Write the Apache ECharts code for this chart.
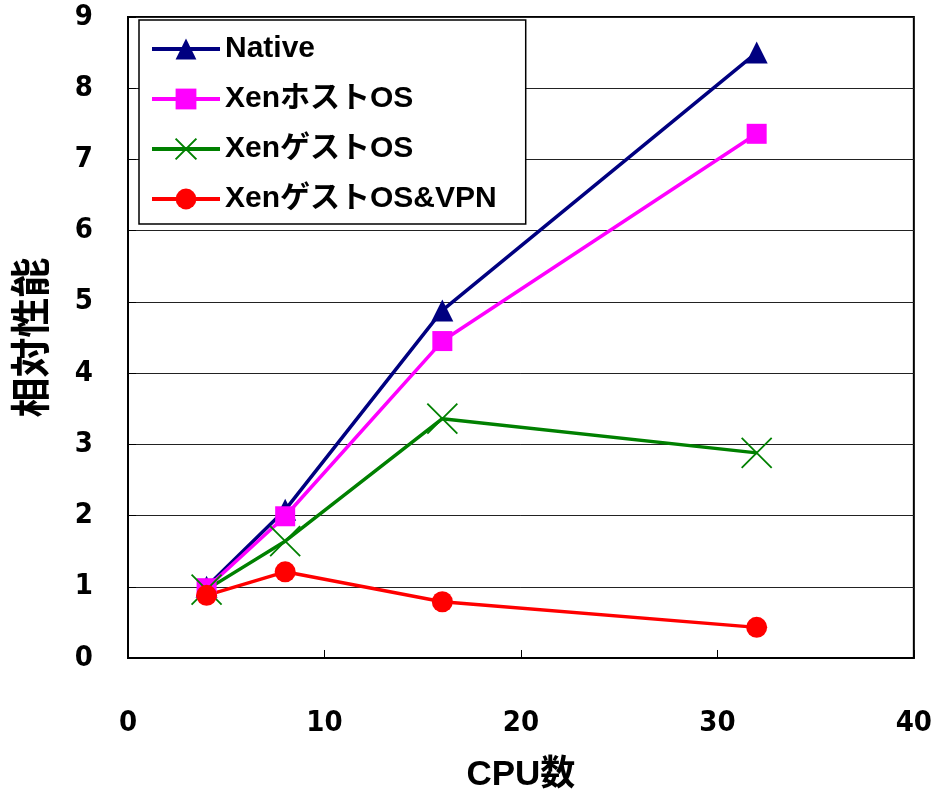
<!DOCTYPE html>
<html>
<head>
<meta charset="utf-8">
<script src="https://cdn.jsdelivr.net/npm/echarts@6/dist/echarts.min.js"></script>
<style>
  html, body { margin: 0; padding: 0; background: #fff; }
  #main { width: 935px; height: 798px; }
</style>
</head>
<body>
<div id="main"></div>
<script>
// データ
var cpus = [4, 8, 16, 32];
var native = [1.0, 2.08, 4.88, 8.5];
var hostOS = [0.98, 1.99, 4.45, 7.36];
var guestOS = [0.96, 1.64, 3.36, 2.88];
var guestVPN = [0.88, 1.21, 0.79, 0.43];
var xTicks = [0, 10, 20, 30, 40];
var yTicks = [0, 1, 2, 3, 4, 5, 6, 7, 8, 9];

var font = '"Liberation Sans Narrow", "DejaVu Sans Condensed", "Noto Sans CJK JP", sans-serif';
var legendFont = '"Liberation Sans", "Noto Sans CJK JP", sans-serif';

function pairs(ys) {
    return cpus.map(function (x, i) { return [x, ys[i]]; });
}

var myChart = echarts.init(document.getElementById('main'));

var option = {
    animation: false,
    backgroundColor: '#fff',
    grid: {
        left: 128, right: 20, top: 17, bottom: 137,
        show: true, borderColor: '#000', borderWidth: 2
    },
    legend: {
        orient: 'vertical',
        left: 139, top: 20,
        padding: [14, 29, 10, 11],
        itemWidth: 68, itemHeight: 26, itemGap: 20,
        borderColor: '#000', borderWidth: 1.5,
        backgroundColor: '#fff',
        lineStyle: { width: 4 },
        textStyle: { fontFamily: legendFont, fontWeight: 'bold', fontSize: 30, color: '#000' },
        data: ['Native', 'XenホストOS', 'XenゲストOS', 'XenゲストOS&VPN']
    },
    xAxis: {
        type: 'value', min: 0, max: 40, interval: 10,
        name: 'CPU数', nameLocation: 'middle', nameGap: 100,
        nameTextStyle: { fontFamily: legendFont, fontWeight: 'bold', fontSize: 35, color: '#000' },
        axisLine: { lineStyle: { color: '#000', width: 2 } },
        axisTick: { inside: true, length: 8, lineStyle: { color: '#000' } },
        axisLabel: {
            margin: 51, fontFamily: font, fontWeight: 'bold', fontSize: 29, color: '#000',
            formatter: function (v) { return xTicks.indexOf(v) >= 0 ? String(v) : ''; }
        },
        splitLine: { show: false }
    },
    yAxis: {
        type: 'value', min: 0, max: 9, interval: 1,
        name: '相対性能', nameLocation: 'middle', nameGap: 78, nameRotate: 90,
        nameTextStyle: { fontFamily: '"Noto Sans CJK JP", sans-serif', fontWeight: 'bold', fontSize: 40, color: '#000' },
        axisLine: { lineStyle: { color: '#000', width: 2 } },
        axisTick: { inside: true, length: 8, lineStyle: { color: '#000' } },
        axisLabel: {
            margin: 35, fontFamily: font, fontWeight: 'bold', fontSize: 29, color: '#000',
            formatter: function (v) { return yTicks.indexOf(v) >= 0 ? String(v) : ''; }
        },
        splitLine: { show: true, lineStyle: { color: '#222', width: 1 } }
    },
    series: [{
        name: 'Native', type: 'line', data: pairs(native),
        symbol: 'triangle', symbolSize: 22,
        itemStyle: { color: '#000080' },
        lineStyle: { color: '#000080', width: 3.5 }
    }, {
        name: 'XenホストOS', type: 'line', data: pairs(hostOS),
        symbol: 'rect', symbolSize: 20,
        itemStyle: { color: '#ff00ff' },
        lineStyle: { color: '#ff00ff', width: 3.5 }
    }, {
        name: 'XenゲストOS', type: 'line', data: pairs(guestOS),
        symbol: 'path://M0,0L10,10M10,0L0,10', symbolSize: 30,
        itemStyle: { color: 'rgba(0,0,0,0)', borderColor: '#008000', borderWidth: 1.8 },
        lineStyle: { color: '#008000', width: 3.5 }
    }, {
        name: 'XenゲストOS&VPN', type: 'line', data: pairs(guestVPN),
        symbol: 'circle', symbolSize: 21,
        itemStyle: { color: '#ff0000' },
        lineStyle: { color: '#ff0000', width: 3.5 }
    }]
};

myChart.setOption(option);
</script>
</body>
</html>
